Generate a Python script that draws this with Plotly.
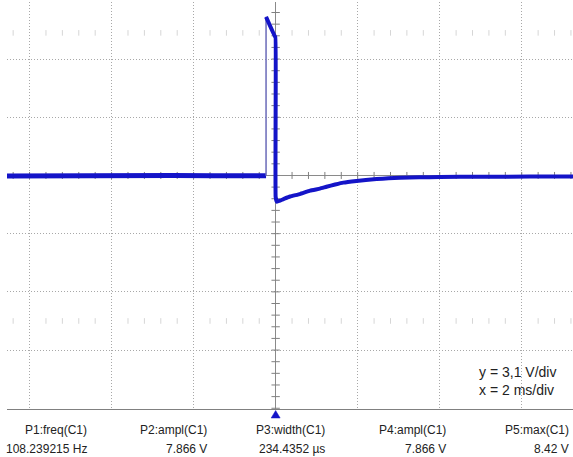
import numpy as np
import plotly.graph_objects as go

# ---- data (time in ms, voltage in V) ----
pre_t = [-6.55, -5.6, -4.6, -3.5, -2.5, -1.5, -0.8, -0.234]
pre_v = [-0.03, -0.01, 0.0, -0.02, 0.0, -0.02, -0.03, -0.02]

pulse_t = [-0.234, -0.005, 0.0, 0.0, 0.03, 0.18, 0.35, 0.59, 0.84, 1.08, 1.24, 1.45, 1.65, 1.97,
           2.2, 2.46, 2.75, 3.03, 3.5, 4.0, 5.0, 6.2, 7.25]
pulse_v = [8.45, 7.35, 7.35, -1.13, -1.40, -1.27, -1.12, -0.99, -0.81, -0.70, -0.60, -0.48, -0.38, -0.29,
           -0.24, -0.19, -0.15, -0.12, -0.10, -0.08, -0.07, -0.06, -0.06]

meas_labels = ["P1:freq(C1)", "P2:ampl(C1)", "P3:width(C1)", "P4:ampl(C1)", "P5:max(C1)"]
meas_values = ["108.239215 Hz", "7.866 V", "234.4352 µs", "7.866 V", "8.42 V"]
scale_text = ["y = 3,1 V/div", "x = 2 ms/div"]

V_DIV = 3.1
T_DIV = 2.0

# ---- geometry ----
W, H = 573, 457
ML, MR, MT, MB = 7, 0, 2, 48
PW, PH = W - ML - MR, H - MT - MB
X_RANGE = [-6.55, 7.25]
Y_RANGE = [-12.44, 9.24]

def px_x(px):
    return (px - ML) / PW

def px_y(py):
    return (H - MB - py) / PH

BLUE = "#1414c8"

fig = go.Figure()

# faint minor marks rows
minor_t = np.arange(-6.4, 7.3, 0.4)
minor_t = minor_t[np.abs(np.round(minor_t / T_DIV) * T_DIV - minor_t) > 1e-6]
for lvl in (2.45 * V_DIV, -2.5 * V_DIV):
    fig.add_trace(go.Scatter(x=minor_t, y=[lvl] * len(minor_t), mode="markers",
                             marker=dict(symbol="line-ns", size=4, line=dict(color="#d6d6d6", width=1)),
                             hoverinfo="skip", showlegend=False))

# centre axis tick marks
ht = np.arange(-6.4, 7.3, 0.4)
fig.add_trace(go.Scatter(x=ht, y=[0] * len(ht), mode="markers",
                         marker=dict(symbol="line-ns", size=5, line=dict(color="#808080", width=1)),
                         hoverinfo="skip", showlegend=False))
vt = np.arange(-20, 16) * V_DIV / 5
vt = vt[(vt > Y_RANGE[0]) & (vt < Y_RANGE[1])]
fig.add_trace(go.Scatter(x=[0] * len(vt), y=vt, mode="markers",
                         marker=dict(symbol="line-ew", size=6, line=dict(color="#808080", width=1)),
                         hoverinfo="skip", showlegend=False))

# trace: baseline before pulse
fig.add_trace(go.Scatter(x=pre_t, y=pre_v, mode="lines",
                         line=dict(color=BLUE, width=5), hoverinfo="skip", showlegend=False))
# rising edge (thin, lighter)
fig.add_trace(go.Scatter(x=[pre_t[-1], pulse_t[0]], y=[pre_v[-1], pulse_v[0]], mode="lines",
                         line=dict(color="#6a6ab8", width=1.5), hoverinfo="skip", showlegend=False))
# pulse top, fall and recovery
fig.add_trace(go.Scatter(x=pulse_t, y=pulse_v, mode="lines", line_shape="spline",
                         line=dict(color=BLUE, width=4, smoothing=0.3), hoverinfo="skip", showlegend=False))

# trigger triangle below the grid (decoration)
cx = px_x(ML + (0 - X_RANGE[0]) / (X_RANGE[1] - X_RANGE[0]) * PW)
half = 4.5 / PW
tri_path = "M {a},{b} L {c},{d} L {e},{b} Z".format(
    a=cx - half, b=px_y(418), c=cx, d=px_y(410.5), e=cx + half)
shapes = [dict(type="path", xref="paper", yref="paper", path=tri_path,
               fillcolor=BLUE, line=dict(color=BLUE, width=0.5))]

annotations = []
col_right = [89, 209, 327, 448, 571]
for lab, val, xr in zip(meas_labels, meas_values, col_right):
    annotations.append(dict(x=px_x(xr), y=px_y(430), xref="paper", yref="paper", text=lab,
                            showarrow=False, xanchor="right", yanchor="middle",
                            font=dict(family="Liberation Sans, Arial", size=12, color="#222")))
    annotations.append(dict(x=px_x(xr), y=px_y(449), xref="paper", yref="paper", text=val,
                            showarrow=False, xanchor="right", yanchor="middle",
                            font=dict(family="Liberation Sans, Arial", size=12, color="#222")))
for txt, yy in zip(scale_text, [372, 390]):
    annotations.append(dict(x=px_x(477), y=px_y(yy), xref="paper", yref="paper", text=txt,
                            showarrow=False, xanchor="left", yanchor="middle",
                            font=dict(family="Liberation Sans, Arial", size=14, color="#222")))

fig.update_layout(
    width=W, height=H,
    margin=dict(l=ML, r=MR, t=MT, b=MB),
    paper_bgcolor="white", plot_bgcolor="white",
    annotations=annotations, shapes=shapes,
    xaxis=dict(range=X_RANGE, tick0=0, dtick=T_DIV, showticklabels=False, ticks="",
               showgrid=True, gridcolor="#a8a8a8", gridwidth=1, griddash="1px,2px",
               zeroline=True, zerolinecolor="#8a8a8a", zerolinewidth=1,
               showline=True, linecolor="#808080", linewidth=1, mirror=False, fixedrange=True),
    yaxis=dict(range=Y_RANGE, tick0=0, dtick=V_DIV, showticklabels=False, ticks="",
               showgrid=True, gridcolor="#a8a8a8", gridwidth=1, griddash="1px,2px",
               zeroline=True, zerolinecolor="#8a8a8a", zerolinewidth=1,
               showline=False, fixedrange=True),
)

fig.write_html("out.html")
